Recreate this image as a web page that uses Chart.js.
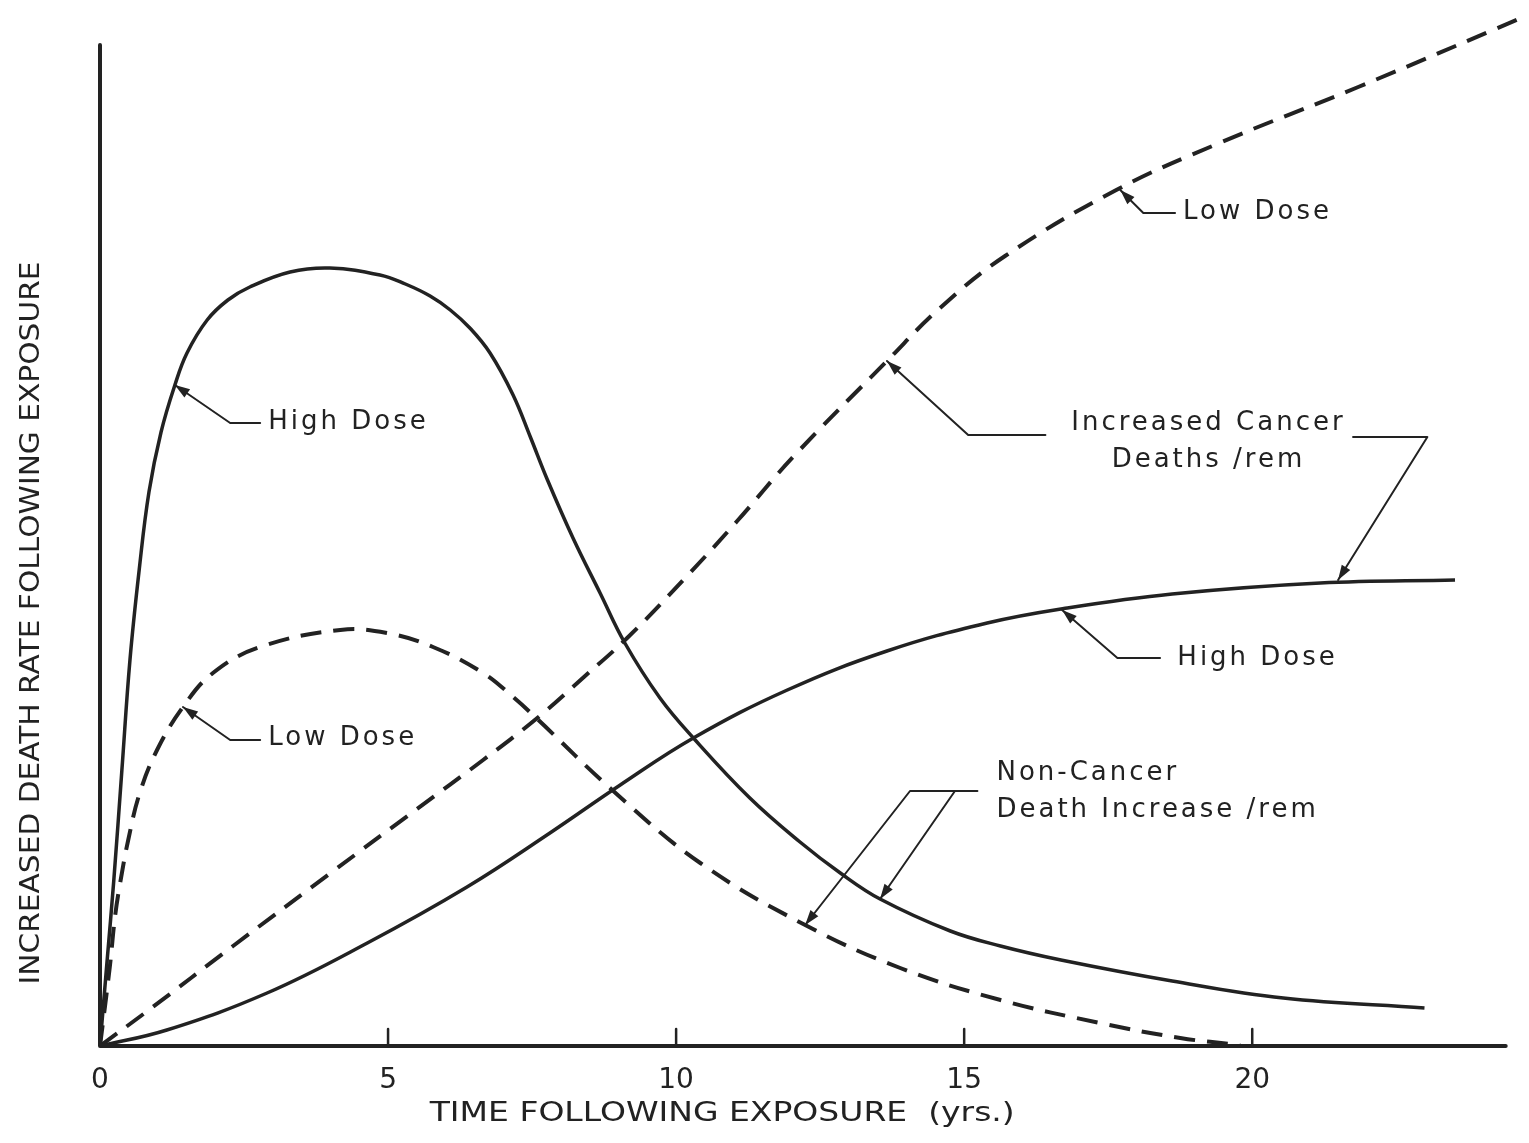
<!DOCTYPE html>
<html>
<head>
<meta charset="utf-8">
<script src="https://cdn.jsdelivr.net/npm/chart.js@4.4.1/dist/chart.umd.min.js"></script>
<style>
  html, body { margin: 0; padding: 0; background: #fff; }
</style>
</head>
<body>
<canvas id="chart" width="1529" height="1143"></canvas>
<script>
// years after exposure vs. relative increase in death rate (arbitrary units)
const ncHighX = [0, 0.12, 0.24, 0.38, 0.52, 0.68, 0.85, 1.06, 1.30, 1.51, 1.86, 2.22, 2.60, 3.30, 3.99, 4.86, 5.30, 5.73, 6.08, 6.42, 6.77, 7.17, 7.47, 7.76, 8.21, 8.68, 9.11, 9.72, 10.30, 11.28, 12.15, 12.85, 13.54, 14.76, 15.63, 16.68, 18.61, 20.54, 22.99];
const ncHighY = [0, 8.3, 16.6, 27.6, 38.6, 47.6, 55.4, 61.4, 66.1, 69.3, 72.6, 74.6, 75.9, 77.4, 77.8, 77.1, 76.2, 75.0, 73.6, 71.8, 69.3, 65.1, 60.9, 56.7, 50.8, 45.3, 40.3, 34.8, 30.8, 24.8, 20.4, 17.3, 14.7, 11.5, 10.0, 8.6, 6.5, 4.8, 3.8];

const ncLowX = [0, 0.17, 0.26, 0.35, 0.49, 0.69, 0.99, 1.44, 1.96, 2.78, 4.17, 4.98, 5.78, 6.65, 7.17, 7.59, 8.91, 10.42, 12.24, 13.89, 15.63, 17.36, 18.75, 19.79];
const ncLowY = [0, 7.9, 12.9, 16.3, 20.6, 25.3, 29.6, 33.9, 37.3, 39.9, 41.6, 41.3, 39.9, 37.3, 34.9, 32.7, 25.5, 18.3, 12.1, 7.8, 4.6, 2.3, 0.8, 0.1];

const caHighX = [0, 1.16, 2.90, 4.64, 6.37, 7.81, 9.03, 10.30, 11.93, 13.66, 15.40, 16.79, 18.61, 21.18, 23.52];
const caHighY = [0, 1.6, 5.3, 10.3, 15.9, 21.3, 26.1, 30.8, 35.6, 39.5, 42.3, 43.8, 45.2, 46.3, 46.6];

const caLowX = [0, 0.87, 2.31, 4.05, 5.50, 6.65, 7.59, 8.40, 9.15, 10.19, 11.06, 12.03, 13.66, 14.58, 15.71, 17.64, 19.43, 21.84, 24.67];
const caLowY = [0, 3.7, 10.0, 17.5, 23.7, 28.6, 32.8, 36.9, 40.8, 47.0, 52.5, 58.9, 68.5, 73.8, 79.0, 85.6, 90.3, 95.9, 102.8];

const xTicks = [0, 5, 10, 15, 20];
const xTitle = 'TIME FOLLOWING EXPOSURE  (yrs.)';
const yTitle = 'INCREASED DEATH RATE FOLLOWING EXPOSURE';

const ink = '#222';
const pts = (xs, ys) => xs.map((x, i) => ({x: x, y: ys[i]}));

// callouts: leader path starts at the arrow tip (data coords)
const callouts = [
  {lines: ['High Dose'], at: [2.92, 62.4], align: 'left', path: [[1.30, 66.1], [2.26, 62.3], [2.78, 62.3]]},
  {lines: ['Low Dose'], at: [2.92, 30.8], align: 'left', path: [[1.44, 33.9], [2.26, 30.6], [2.78, 30.6]]},
  {lines: ['Low Dose'], at: [18.80, 83.4], align: 'left', path: [[17.71, 85.6], [18.11, 83.3], [18.66, 83.3]]},
  {lines: ['Increased Cancer', 'Deaths /rem'], at: [19.24, 62.3], align: 'center', path: [[13.66, 68.5], [15.07, 61.1], [16.41, 61.1]]},
  {lines: [], path: [[21.49, 46.6], [23.04, 60.9], [21.75, 60.9]]},
  {lines: ['High Dose'], at: [18.70, 38.8], align: 'left', path: [[16.70, 43.6], [17.66, 38.8], [18.40, 38.8]]},
  {lines: ['Non-Cancer', 'Death Increase /rem'], at: [15.56, 27.3], align: 'left', path: [[12.24, 12.1], [14.06, 25.5], [15.23, 25.5]]},
  {lines: [], path: [[13.54, 14.7], [14.84, 25.5]]}
];

function arrowHead(ctx, tip, from) {
  const a = Math.atan2(tip[1] - from[1], tip[0] - from[0]);
  const len = 15, w = 5;
  ctx.beginPath();
  ctx.moveTo(tip[0], tip[1]);
  ctx.lineTo(tip[0] - len * Math.cos(a) + w * Math.sin(a), tip[1] - len * Math.sin(a) - w * Math.cos(a));
  ctx.lineTo(tip[0] - len * Math.cos(a) - w * Math.sin(a), tip[1] - len * Math.sin(a) + w * Math.cos(a));
  ctx.closePath();
  ctx.fill();
}

function fitText(ctx, text, cx, cy, width) {
  const m = ctx.measureText(text).width;
  ctx.save();
  ctx.translate(cx, cy);
  ctx.scale(width / m, 1);
  ctx.fillText(text, 0, 0);
  ctx.restore();
}

const sketch = {
  id: 'sketch',
  afterDatasetsDraw(chart) {
    const {ctx} = chart;
    const x = chart.scales.x, y = chart.scales.y;
    const px = v => x.getPixelForValue(v), py = v => y.getPixelForValue(v);
    ctx.save();
    ctx.strokeStyle = ink;
    ctx.fillStyle = ink;
    ctx.lineCap = 'round';
    ctx.lineJoin = 'round';

    // axes
    ctx.lineWidth = 4;
    ctx.beginPath();
    ctx.moveTo(px(0), py(100.1));
    ctx.lineTo(px(0), py(0));
    ctx.lineTo(px(24.4), py(0));
    ctx.stroke();
    ctx.lineWidth = 2.5;
    xTicks.forEach(t => {
      if (t === 0) return;
      ctx.beginPath();
      ctx.moveTo(px(t), py(0));
      ctx.lineTo(px(t), py(0) - 17);
      ctx.stroke();
    });

    // callouts
    ctx.font = '26px "DejaVu Sans"';
    ctx.letterSpacing = '3px';
    ctx.textBaseline = 'middle';
    callouts.forEach(c => {
      const p = c.path.map(q => [px(q[0]), py(q[1])]);
      ctx.lineWidth = 2;
      ctx.beginPath();
      p.forEach((q, i) => i ? ctx.lineTo(q[0], q[1]) : ctx.moveTo(q[0], q[1]));
      ctx.stroke();
      arrowHead(ctx, p[0], p[1]);
      ctx.textAlign = c.align || 'left';
      c.lines.forEach((s, i) => ctx.fillText(s, px(c.at[0]), py(c.at[1]) + i * 37));
    });

    // axis titles
    ctx.letterSpacing = '0px';
    ctx.textAlign = 'center';
    ctx.font = '26px "DejaVu Sans"';
    fitText(ctx, xTitle, px(10.8), py(0) + 68, 585);
    ctx.save();
    ctx.translate(x.left - 68, py(42.3));
    ctx.rotate(-Math.PI / 2);
    fitText(ctx, yTitle, 0, 0, 723);
    ctx.restore();
    ctx.restore();
  }
};

const line = (label, data, dashed) => ({
  label: label,
  data: data,
  borderColor: ink,
  borderWidth: dashed ? 4 : 3.5,
  borderDash: dashed ? [21, 12] : [],
  pointRadius: 0,
  fill: false,
  tension: 0.4
});

new Chart(document.getElementById('chart'), {
  type: 'line',
  data: {
    datasets: [
      line('Non-Cancer, High Dose', pts(ncHighX, ncHighY), false),
      line('Non-Cancer, Low Dose', pts(ncLowX, ncLowY), true),
      line('Cancer, High Dose', pts(caHighX, caHighY), false),
      line('Cancer, Low Dose', pts(caLowX, caLowY), true)
    ]
  },
  options: {
    responsive: false,
    animation: false,
    layout: {padding: {top: 6, right: 6, left: 0, bottom: 0}},
    plugins: {legend: {display: false}, tooltip: {enabled: false}},
    scales: {
      x: {
        type: 'linear',
        min: 0,
        max: 24.7,
        grid: {display: false, drawTicks: false},
        border: {display: false},
        afterBuildTicks: s => { s.ticks = xTicks.map(v => ({value: v})); },
        afterFit: s => { s.height = 97; },
        ticks: {color: ink, padding: 18, font: {family: 'DejaVu Sans', size: 28}}
      },
      y: {
        type: 'linear',
        min: 0,
        max: 104,
        grid: {display: false, drawTicks: false},
        border: {display: false},
        ticks: {display: false},
        afterFit: s => { s.width = 100; }
      }
    }
  },
  plugins: [sketch]
});
</script>
</body>
</html>
